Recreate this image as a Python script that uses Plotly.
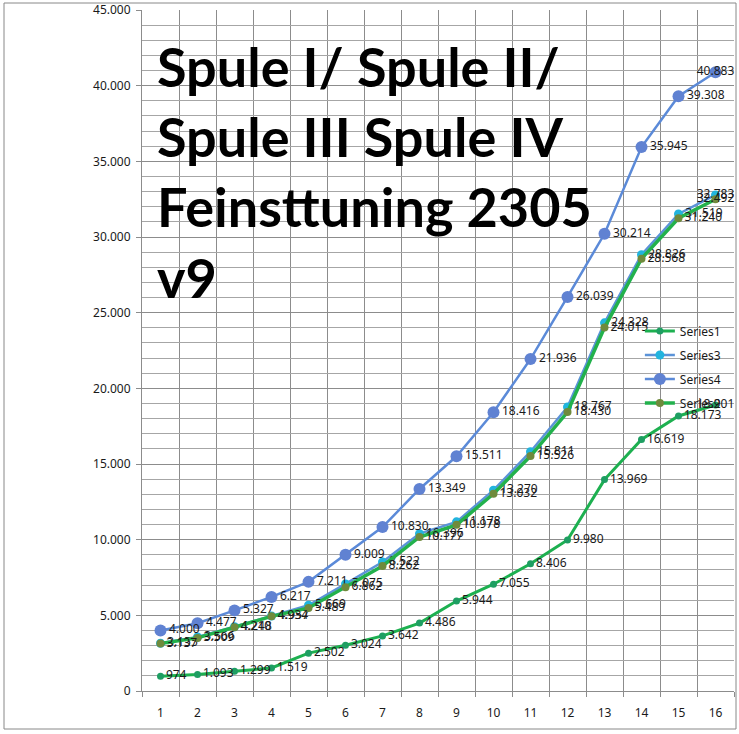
import plotly.graph_objects as go

# Kategorien (x-Achse)
categories = list(range(1, 17))

# Werte
series1 = [974, 1093, 1299, 1519, 2502, 3024, 3642, 4486, 5944, 7055,
           8406, 9980, 13969, 16619, 18173, 18901]
series3 = [3155, 3566, 4248, 4957, 5669, 7075, 8522, 10396, 11178, 13270,
           15811, 18767, 24328, 28826, 31519, 32783]
series4 = [4000, 4477, 5327, 6217, 7211, 9009, 10830, 13349, 15511, 18416,
           21936, 26039, 30214, 35945, 39308, 40883]
series2 = [3137, 3509, 4210, 4934, 5489, 6862, 8262, 10177, 10978, 13032,
           15526, 18430, 24015, 28568, 31240, 32492]

title_text = "Spule I/ Spule II/<br>Spule III Spule IV<br>Feinsttuning 2305<br>v9"

W, H = 739, 734
L, R, T, B = 142, 5, 10, 43

fig = go.Figure()

# letzter Punkt: Beschriftung auf dem Punkt, damit sie nicht abgeschnitten wird
positions = ["middle right"] * 15 + ["middle center"]

def add_series(name, values, line_color, marker_color, marker_size, line_width):
    fig.add_trace(go.Scatter(
        x=categories, y=values, name=name, legendgroup=name,
        mode="lines+markers+text",
        line=dict(color=line_color, width=line_width),
        marker=dict(color=marker_color, size=marker_size),
        texttemplate="%{y:,d}",
        textposition=positions,
        textfont=dict(family="Noto Sans", size=12, color="#1a1a1a"),
        cliponaxis=False,
    ))

add_series("Series1", series1, "#1DB050", "#1E9E62", 7, 3)
add_series("Series3", series3, "#5B93D8", "#22B4DE", 9, 2.5)
add_series("Series4", series4, "#5B8AD8", "#6082D2", 12, 2.5)
add_series("Series2", series2, "#22B14C", "#6F8A3C", 8, 3.5)

fig.update_layout(
    width=W, height=H,
    margin=dict(l=L, r=R, t=T, b=B),
    paper_bgcolor="white",
    plot_bgcolor="white",
    separators=",.",
    showlegend=True,
    legend=dict(
        x=0.841, y=0.55, xanchor="left", yanchor="top",
        bgcolor="rgba(0,0,0,0)",
        font=dict(family="Noto Sans", size=12, color="#1a1a1a"),
        tracegroupgap=5, itemwidth=30,
    ),
    annotations=[dict(
        text="<b>" + title_text + "</b>",
        xref="paper", yref="paper", x=0.022, y=0.968,
        xanchor="left", yanchor="top", align="left", showarrow=False,
        font=dict(family="Lato", size=54, color="black"),
    )],
    shapes=[dict(
        type="rect", xref="paper", yref="paper",
        x0=(4 - L) / (W - L - R), x1=(736 - L) / (W - L - R),
        y0=(H - B - 729) / (H - T - B), y1=(H - B - 3) / (H - T - B),
        line=dict(color="#888888", width=1), layer="below",
    )],
)

fig.update_xaxes(
    range=[0.5, 16.5],
    tickmode="array", tickvals=categories,
    automargin=False,
    showgrid=False,
    ticks="",
    minor=dict(tick0=0.5, dtick=1, showgrid=True, gridcolor="#8C8C8C",
               gridwidth=1, ticks="outside", ticklen=5, tickcolor="#8C8C8C"),
    showline=True, linecolor="#8C8C8C", linewidth=1,
    ticklabelstandoff=11,
    tickfont=dict(family="Noto Sans", size=12, color="#1a1a1a"),
    zeroline=False,
)
fig.update_yaxes(
    range=[0, 45000], dtick=5000, tickformat=",d",
    automargin=False,
    ticklabeloverflow="allow",
    showgrid=True, gridcolor="#8C8C8C", gridwidth=1,
    minor=dict(dtick=1000, showgrid=True, gridcolor="#A6A6A6", gridwidth=1),
    showline=True, linecolor="#8C8C8C", linewidth=1,
    ticks="outside", ticklen=5, tickcolor="#8C8C8C",
    ticklabelstandoff=3,
    tickfont=dict(family="Noto Sans", size=12, color="#1a1a1a"),
    zeroline=False,
)

# Body-Rand der Seite entfernen, damit die Grafik das ganze Fenster nutzt
fig.write_html("out.html", config={"displayModeBar": False},
               post_script="document.body.style.margin = '0px';")
